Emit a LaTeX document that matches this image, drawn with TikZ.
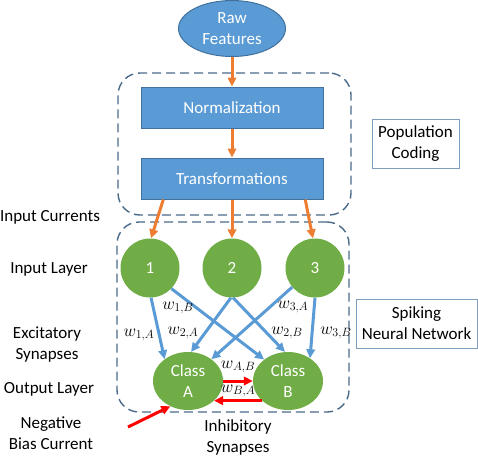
\documentclass[tikz,border=0pt]{standalone}
\usepackage{fontspec}
\setmainfont{Carlito}
\usetikzlibrary{arrows.meta,shapes.geometric}
\definecolor{bluef}{HTML}{5B9BD5}
\definecolor{blued}{HTML}{41719C}
\definecolor{greenf}{HTML}{70AD47}
\definecolor{orangel}{HTML}{ED7D31}
\definecolor{dashc}{HTML}{4A6A8A}
\definecolor{boxc}{HTML}{7F9DBF}
\definecolor{redl}{HTML}{FF0000}
\begin{document}
\begin{tikzpicture}[x=1pt,y=-1pt,
  font=\fontsize{17}{21}\selectfont,
  blk/.style={rectangle, fill=bluef, draw=blued, line width=1pt, text=white, minimum width=182pt, minimum height=41pt, inner sep=0pt},
  rawnode/.style={ellipse, fill=bluef, draw=blued, line width=1pt, text=white, minimum width=107pt, minimum height=56pt, inner sep=0pt, align=center},
  neuron/.style={circle, fill=greenf, text=white, minimum size=59pt, inner sep=0pt},
  cls/.style={ellipse, fill=greenf, text=white, minimum width=70pt, minimum height=58pt, inner sep=0pt, align=center},
  lbl/.style={align=center, text=black, inner sep=0pt},
  wlbl/.style={text=black, inner sep=0pt, font=\fontsize{18}{20}\selectfont},
  dashbox/.style={draw=dashc, dash pattern=on 9pt off 5pt, line width=1.4pt, rounded corners=22pt, inner sep=0pt},
  infobox/.style={draw=boxc, line width=1pt, align=center, inner sep=0pt},
  oarr/.style={draw=orangel, line width=3pt, -{Triangle[length=9pt,width=8.5pt]}},
  barr/.style={draw=bluef, line width=3pt, -{Triangle[length=9pt,width=8.5pt]}},
  rarr/.style={draw=redl, line width=3pt, -{Triangle[length=9pt,width=8.5pt]}}
]
\useasboundingbox (0,0) rectangle (478,456);

% dashed group boxes
\node[dashbox, minimum width=233pt, minimum height=142pt] (popbox) at (234.5,144) {};
\node[dashbox, minimum width=232pt, minimum height=190pt] (snnbox) at (233,317) {};

% main nodes
\node[rawnode] (raw) at (232,28.5) {Raw\\Features};
\node[blk] (norm) at (232,107.5) {Normalization};
\node[blk] (trans) at (232,178.5) {Transformations};

\node[neuron] (n1) at (150,268) {1};
\node[neuron] (n2) at (232,268) {2};
\node[neuron] (n3) at (315,268) {3};

\node[cls] (A) at (188,381) {Class\\A};
\node[cls] (B) at (288,381) {Class\\B};

% info boxes
\node[infobox, minimum width=87pt, minimum height=49pt] (popc) at (415.5,143.5) {Population\\Coding};
\node[infobox, minimum width=121pt, minimum height=49pt] (snn) at (416.5,323.5) {Spiking\\Neural Network};

% side labels
\node[lbl] (lic) at (50,217) {Input Currents};
\node[lbl] (lil) at (49,269) {Input Layer};
\node[lbl] (les) at (47,345) {Excitatory\\Synapses};
\node[lbl] (lol) at (49,389) {Output Layer};
\node[lbl] (lnb) at (51,433) {Negative\\Bias Current};
\node[lbl] (lis) at (238,437) {Inhibitory\\Synapses};

% orange arrows
\draw[oarr] (raw.south) -- (norm.north);
\draw[oarr] (norm.south) -- (trans.north);
\draw[oarr] (trans.-163.5) -- (n1.88);
\draw[oarr] (trans.south) -- (n2.north);
\draw[oarr] (trans.-16.8) -- (n3.94);

% blue excitatory arrows
\draw[barr] (n1.-88) -- (A.137);
\draw[barr] (n1.-44) -- (B.138);
\draw[barr] (n2.-92) -- (A.84);
\draw[barr] (n2.-88) -- (B.96);
\draw[barr] (n3.-140) -- (A.43);
\draw[barr] (n3.-90) -- (B.46);

% weight labels
\node[wlbl] (w1a) at (139,335) {$w_{1,A}$};
\node[wlbl] (w1b) at (178,308) {$w_{1,B}$};
\node[wlbl] (w2a) at (183,333) {$w_{2,A}$};
\node[wlbl] (w2b) at (287,333) {$w_{2,B}$};
\node[wlbl] (w3a) at (293,307) {$w_{3,A}$};
\node[wlbl] (w3b) at (336,333) {$w_{3,B}$};

% red inhibitory arrows
\draw[rarr] (A.east) -- (A.east -| B.west);
\draw[rarr] (B.-143) -- (B.-143 -| A.-37);
\node[wlbl] (wab) at (238,367) {$w_{A,B}$};
\node[wlbl] (wba) at (238,391) {$w_{B,A}$};

% negative bias current
\coordinate (bias) at (128,427);
\draw[rarr] (bias) -- (A.-125);
\end{tikzpicture}
\end{document}
